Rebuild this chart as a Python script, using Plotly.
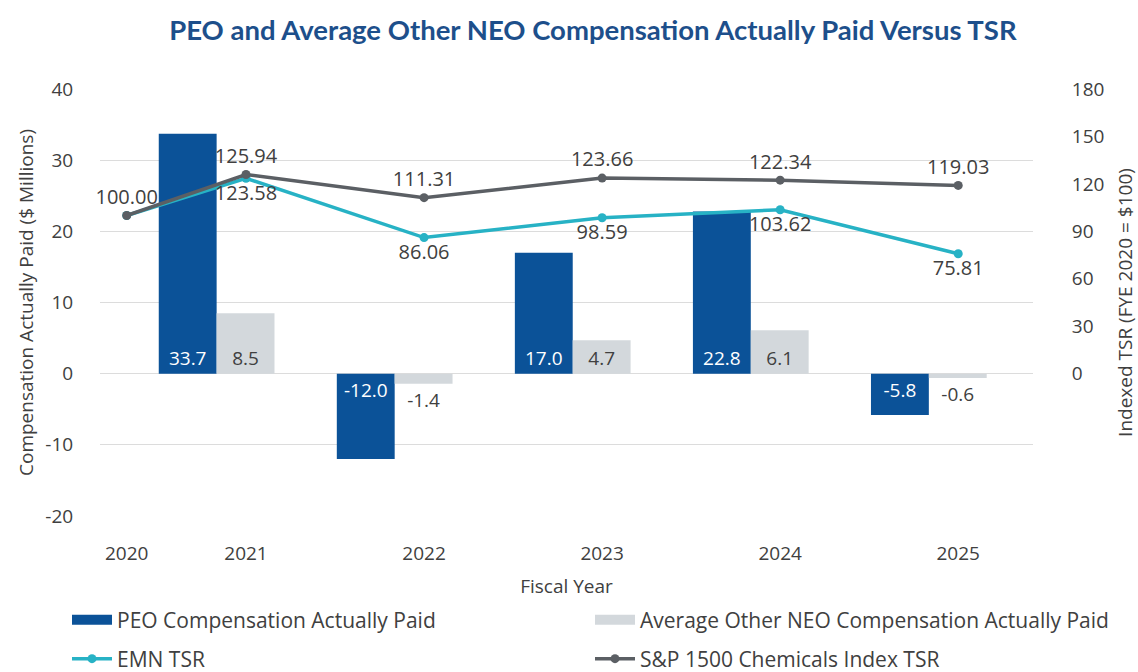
import plotly.graph_objects as go

# ---- data ----
fiscal_years = [2020, 2021, 2022, 2023, 2024, 2025]
bar_years = [2021, 2022, 2023, 2024, 2025]
peo_cap = [33.7, -12.0, 17.0, 22.8, -5.8]
neo_cap = [8.5, -1.4, 4.7, 6.1, -0.6]
emn_tsr = [100.00, 123.58, 86.06, 98.59, 103.62, 75.81]
index_tsr = [100.00, 125.94, 111.31, 123.66, 122.34, 119.03]
tick_labels = [str(y) for y in fiscal_years]
comp_ticks = [-20, -10, 0, 10, 20, 30, 40]
tsr_ticks = [0, 30, 60, 90, 120, 150, 180]

# ---- styling ----
PEO_BLUE = "#0b5298"
NEO_GREY = "#d3d8dc"
EMN_TEAL = "#27b2c5"
INDEX_GREY = "#5b5f64"
TEXT = "#404040"
TITLE_BLUE = "#1d4f8b"
FONT = "Open Sans"

# The base year sits closer to the first bar group on the axis.
BASE_YEAR_POS = 2020.33


def year_pos(y):
    return BASE_YEAR_POS if y == fiscal_years[0] else y


line_x = [year_pos(y) for y in fiscal_years]
BAR_W = 0.325
PEO_NAME = "PEO Compensation Actually Paid"
NEO_NAME = "Average Other NEO Compensation Actually Paid"

fig = go.Figure()

fig.add_trace(go.Bar(
    x=bar_years, y=peo_cap, name=PEO_NAME, showlegend=False,
    marker=dict(color=PEO_BLUE, line=dict(width=0)),
    width=BAR_W, offset=-0.49,
    text=[f"{v:.1f}" for v in peo_cap], textposition="inside",
    insidetextanchor="start", constraintext="none",
    insidetextfont=dict(color="white", size=19, family=FONT),
    hoverinfo="skip",
))
fig.add_trace(go.Bar(
    x=bar_years, y=neo_cap, name=NEO_NAME, showlegend=False,
    marker=dict(color=NEO_GREY, line=dict(width=0)),
    width=BAR_W, offset=-0.165,
    text=[f"{v:.1f}" for v in neo_cap], textposition="auto",
    insidetextanchor="start", constraintext="none",
    insidetextfont=dict(color=TEXT, size=19, family=FONT),
    outsidetextfont=dict(color=TEXT, size=19, family=FONT),
    cliponaxis=False, hoverinfo="skip",
))

# Legend-only swatches drawn as wide flat bars, as in the printed key.
fig.add_trace(go.Scatter(
    x=[None], y=[None], name=PEO_NAME, mode="lines",
    line=dict(color=PEO_BLUE, width=15), legend="legend2",
))
fig.add_trace(go.Scatter(
    x=[None], y=[None], name=NEO_NAME, mode="lines",
    line=dict(color=NEO_GREY, width=15), legend="legend3",
))

emn_text = [""] + [f"{v:.2f}" for v in emn_tsr[1:]]
fig.add_trace(go.Scatter(
    x=line_x, y=emn_tsr, yaxis="y2", name="EMN TSR",
    mode="lines+markers+text",
    line=dict(color=EMN_TEAL, width=3.5),
    marker=dict(color=EMN_TEAL, size=9),
    text=emn_text, textposition="bottom center",
    textfont=dict(color=TEXT, size=20, family=FONT),
    cliponaxis=False, legend="legend4", hoverinfo="skip",
))
fig.add_trace(go.Scatter(
    x=line_x, y=index_tsr, yaxis="y2", name="S&P 1500 Chemicals Index TSR",
    mode="lines+markers+text",
    line=dict(color=INDEX_GREY, width=3.5),
    marker=dict(color=INDEX_GREY, size=9),
    text=[f"{v:.2f}" for v in index_tsr], textposition="top center",
    textfont=dict(color=TEXT, size=20, family=FONT),
    cliponaxis=False, legend="legend5", hoverinfo="skip",
))

legend_common = dict(
    xref="container", yref="container", xanchor="left", yanchor="middle",
    orientation="h", font=dict(family=FONT, size=21, color=TEXT),
    bgcolor="rgba(0,0,0,0)", itemwidth=40,
)
ROW1 = 1 - 620 / 672
ROW2 = 1 - 659 / 672
COL1 = 67 / 1138
COL2 = 590 / 1138

fig.update_layout(
    width=1138, height=672,
    paper_bgcolor="white", plot_bgcolor="white",
    margin=dict(l=100, r=105, t=89, b=156, autoexpand=False),
    barmode="overlay", showlegend=True,
    font=dict(family=FONT, color=TEXT),
    title=dict(
        text="<b>PEO and Average Other NEO Compensation Actually Paid Versus TSR</b>",
        font=dict(family="Lato", size=27.5, color=TITLE_BLUE),
        x=0.521, xanchor="center", xref="container",
        y=1 - 30 / 672, yanchor="middle", yref="container",
    ),
    xaxis=dict(
        range=[2020.18, 2025.42], tickvals=line_x, ticktext=tick_labels,
        showgrid=False, zeroline=False, showline=False, automargin=False,
        ticks="outside", ticklen=20, tickcolor="rgba(0,0,0,0)",
        tickfont=dict(size=19, color=TEXT, family=FONT),
        title=dict(text="Fiscal Year", standoff=17,
                   font=dict(size=19, color=TEXT, family=FONT)),
    ),
    yaxis=dict(
        range=[-20, 40], tickvals=comp_ticks,
        ticktext=[str(v) for v in comp_ticks],
        showgrid=True, gridcolor="#dcdcdc", automargin=False,
        gridwidth=1, zeroline=False, showline=False,
        ticks="outside", ticklen=22, tickcolor="rgba(0,0,0,0)",
        tickfont=dict(size=19, color=TEXT, family=FONT),
        title=dict(text="Compensation Actually Paid ($ Millions)", standoff=6,
                   font=dict(size=19, color=TEXT, family=FONT)),
    ),
    yaxis2=dict(
        range=[-90, 180], tickvals=tsr_ticks,
        ticktext=[str(v) for v in tsr_ticks], automargin=False,
        overlaying="y", side="right", showgrid=False, zeroline=False,
        showline=False, ticks="outside", ticklen=34,
        tickcolor="rgba(0,0,0,0)",
        tickfont=dict(size=19, color=TEXT, family=FONT),
        title=dict(text="Indexed TSR (FYE 2020 = $100)", standoff=15,
                   font=dict(size=19, color=TEXT, family=FONT)),
    ),
    legend=dict(visible=False),
    legend2=dict(x=COL1, y=ROW1, **legend_common),
    legend3=dict(x=COL2, y=ROW1, **legend_common),
    legend4=dict(x=COL1, y=ROW2, **legend_common),
    legend5=dict(x=COL2, y=ROW2, **legend_common),
)

fig.write_html("out.html")
